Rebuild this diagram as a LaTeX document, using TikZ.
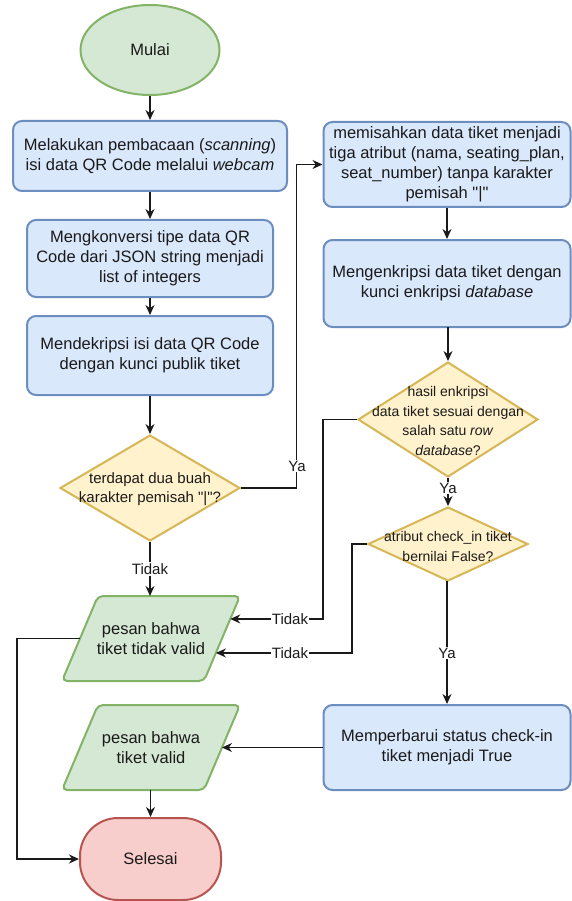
\documentclass[tikz,border=0pt]{standalone}
\usepackage{fontspec}
\setmainfont{Liberation Sans}[Ligatures=TeXOff]
\usetikzlibrary{shapes.geometric,arrows.meta,calc}
\definecolor{gfill}{HTML}{D5E8D4}\definecolor{gline}{HTML}{82B366}
\definecolor{bfill}{HTML}{DAE8FC}\definecolor{bline}{HTML}{6C8EBF}
\definecolor{yfill}{HTML}{FFF2CC}\definecolor{yline}{HTML}{D6B656}
\definecolor{rfill}{HTML}{F8CECC}\definecolor{rline}{HTML}{B85450}
\definecolor{ink}{HTML}{1A1A1A}
\begin{document}
\begin{tikzpicture}[x=1pt,y=-1pt,
  proc/.style={draw=bline, fill=bfill, line width=2pt, rounded corners=9pt, align=center,
    font=\fontsize{16.5}{20}\selectfont, text=ink, inner sep=0pt},
  dec/.style={diamond, draw=yline, fill=yfill, line width=2pt, inner sep=0pt},
  dtext/.style={align=center, text=ink, inner sep=0pt},
  iobg/.style={draw=gline, fill=gfill, line width=2pt, rounded corners=5pt},
  iotext/.style={align=center, font=\fontsize{16.5}{20}\selectfont, text=ink, inner sep=0pt,
    minimum width=142pt, minimum height=85pt},
  arr/.style={-{Stealth[length=10pt,width=9pt]}, line width=1.3pt, draw=ink},
  lbl/.style={fill=white, inner sep=1pt, text=ink, font=\fontsize{15}{18}\selectfont}
]
\useasboundingbox (0,0) rectangle (571,901);

% parallelogram outlines (corners)
\coordinate (p1tl) at (98,596);  \coordinate (p1tr) at (240,596);
\coordinate (p1br) at (204,681); \coordinate (p1bl) at (62,681);
\coordinate (p2tl) at (98,705);  \coordinate (p2tr) at (240,705);
\coordinate (p2br) at (204,790); \coordinate (p2bl) at (62,790);
\draw[iobg] (p1tl) -- (p1tr) -- (p1br) -- (p1bl) -- cycle;
\draw[iobg] (p2tl) -- (p2tr) -- (p2br) -- (p2bl) -- cycle;

% left column
\node[ellipse, draw=gline, fill=gfill, line width=2pt, minimum width=139pt, minimum height=90pt,
  font=\fontsize{16.5}{20}\selectfont, text=ink] (mulai) at (150,50) {Mulai};
\node[proc, minimum width=274pt, minimum height=70pt] (b1) at (150,156)
  {Melakukan pembacaan (\textit{scanning})\\isi data QR Code melalui \textit{webcam}};
\node[proc, minimum width=246pt, minimum height=77pt] (b2) at (150,258.5)
  {Mengkonversi tipe data QR\\Code dari JSON string menjadi\\list of integers};
\node[proc, minimum width=246pt, minimum height=79pt] (b3) at (150,355.5)
  {Mendekripsi isi data QR Code\\dengan kunci publik tiket};
\node[dec, minimum width=180pt, minimum height=106pt] (d1) at (150,488) {};
\node[dtext, font=\fontsize{15}{19}\selectfont] (d1t) at (150,489)
  {terdapat dua buah\\karakter pemisah "|"?};
\node[iotext] (p1) at (151,638.5) {pesan bahwa\\tiket tidak valid};
\node[iotext] (p2) at (151,747.5) {pesan bahwa\\tiket valid};
\node[draw=rline, fill=rfill, line width=2pt, rounded corners=38pt, minimum width=141pt,
  minimum height=82pt, font=\fontsize{16.5}{20}\selectfont, text=ink] (sel) at (150.5,859) {Selesai};

% right column
\node[proc, minimum width=247pt, minimum height=85pt] (b4) at (447,164.5)
  {memisahkan data tiket menjadi\\tiga atribut (nama, seating\_plan,\\seat\_number) tanpa karakter\\pemisah "|"};
\node[proc, minimum width=247pt, minimum height=87pt] (b5) at (447,283.5)
  {Mengenkripsi data tiket dengan\\kunci enkripsi \textit{database}};
\node[dec, minimum width=180pt, minimum height=115pt] (d2) at (448,419.5) {};
\node[dtext, font=\fontsize{14}{19.5}\selectfont] (d2t) at (448,421)
  {hasil enkripsi\\data tiket sesuai dengan\\salah satu \textit{row}\\\textit{database}?};
\node[dec, minimum width=160pt, minimum height=74pt] (d3) at (448,544) {};
\node[dtext, font=\fontsize{14}{20}\selectfont] (d3t) at (448,546)
  {atribut check\_in tiket\\bernilai False?};
\node[proc, minimum width=247pt, minimum height=85pt] (b6) at (447,747.5)
  {Memperbarui status check-in\\tiket menjadi True};

% points on the slanted edges
\coordinate (pa) at ($(p1tr)!0.27!(p1br)$);
\coordinate (pb) at ($(p1tr)!0.67!(p1br)$);
\coordinate (pl) at ($(p1tl)!0.5!(p1bl)$);
\coordinate (pr) at ($(p2tr)!0.5!(p2br)$);
\coordinate (lx) at (17,638.5);

% connectors
\draw[arr] (mulai) -- (b1);
\draw[arr] (b1) -- (b2);
\draw[arr] (b2) -- (b3);
\draw[arr] (b3) -- (d1);
\draw[arr] (d1.south) -- (d1.south |- p1tl);
\draw[arr] (d1.east) -| ($(b4.west)+(-26,0)$) -- (b4.west);
\draw[arr] (b4) -- (b5);
\draw[arr] (b5.south) -- (b5.south -| d2.north) -- (d2.north);
\draw[arr] (d2) -- (d3);
\draw[arr] (d3.south) -- (d3.south -| b6.north) -- (b6.north);
\draw[arr] (d2.west) -- ++(-34,0) |- (pa);
\draw[arr] (d3.west) -- ++(-15,0) |- (pb);
\draw[arr] (b6.west) -- (pr);
\draw[arr] (sel.north |- p2bl) -- (sel.north);
\draw[arr] (pl) -- (lx) |- (sel.west);

% labels
\node[lbl] (l1) at (297,466) {Ya};
\node[lbl] (l2) at (150,569) {Tidak};
\node[lbl] (l3) at (448,488) {Ya};
\node[lbl] (l4) at (447,653) {Ya};
\node[lbl] (l5) at (290,619) {Tidak};
\node[lbl] (l6) at (290,653) {Tidak};
\end{tikzpicture}
\end{document}
